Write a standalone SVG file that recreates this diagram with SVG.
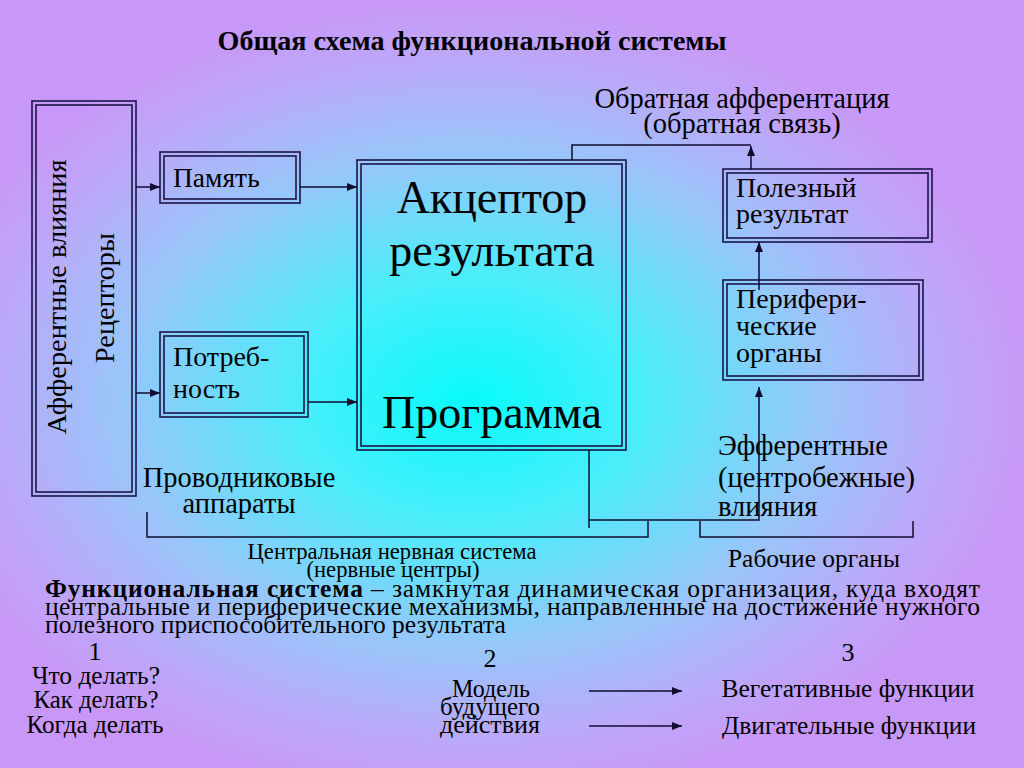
<svg xmlns="http://www.w3.org/2000/svg" width="1024" height="768" viewBox="0 0 1024 768">
<defs>
<radialGradient id="bg" gradientUnits="userSpaceOnUse" cx="0" cy="0" r="1" gradientTransform="translate(470,400) scale(560,400)">
<stop offset="0" stop-color="#08fafc"/>
<stop offset="0.3" stop-color="#48eefa"/>
<stop offset="0.62" stop-color="#98c6fa"/>
<stop offset="0.85" stop-color="#bca8f9"/>
<stop offset="1" stop-color="#c898f8"/>
</radialGradient>
<marker id="ah" viewBox="0 0 10 8" refX="10" refY="4" markerWidth="11" markerHeight="8" markerUnits="userSpaceOnUse" orient="auto">
<path d="M0,0 L10,4 L0,8 z" fill="#120c30"/>
</marker>
<style>
.t{font-family:"Liberation Serif","Times New Roman",serif;fill:#000}
.b{fill:none;stroke:#1b1446;stroke-width:1.6}
.c{fill:none;stroke:#120c30;stroke-width:1.5}
.a{marker-end:url(#ah)}
</style>
</defs>
<rect width="1024" height="768" fill="url(#bg)"/>

<text class="t" x="472" y="50" font-size="28" font-weight="bold" text-anchor="middle" textLength="509" lengthAdjust="spacingAndGlyphs">Общая схема функциональной системы</text>

<g id="receptors">
<rect class="b" x="32" y="101" width="104" height="395"/>
<rect class="b" x="36" y="105" width="96" height="387"/>
<text class="t" font-size="28" text-anchor="middle" transform="translate(66,297) rotate(-90)" textLength="275" lengthAdjust="spacingAndGlyphs">Афферентные влияния</text>
<text class="t" font-size="28" text-anchor="middle" transform="translate(114,298) rotate(-90)" textLength="130" lengthAdjust="spacingAndGlyphs">Рецепторы</text>
</g>

<g id="memory">
<rect class="b" x="160" y="152" width="140" height="51"/>
<rect class="b" x="164" y="156" width="132" height="43"/>
<text class="t" x="173" y="187" font-size="27.5">Память</text>
</g>

<g id="need">
<rect class="b" x="160" y="332" width="148" height="85"/>
<rect class="b" x="164" y="336" width="140" height="77"/>
<text class="t" x="173" y="366" font-size="28">Потреб-</text>
<text class="t" x="173" y="398" font-size="28">ность</text>
</g>

<g id="acceptor">
<rect class="b" x="357" y="160" width="269" height="290"/>
<rect class="b" x="361" y="164" width="261" height="282"/>
<text class="t" x="492" y="213" font-size="46" text-anchor="middle">Акцептор</text>
<text class="t" x="492" y="266" font-size="46" text-anchor="middle">результата</text>
<text class="t" x="492" y="428" font-size="46" text-anchor="middle">Программа</text>
</g>

<g id="useful">
<rect class="b" x="723" y="169" width="209" height="73"/>
<rect class="b" x="727" y="173" width="201" height="65"/>
<text class="t" x="736" y="197" font-size="28">Полезный</text>
<text class="t" x="736" y="223" font-size="28">результат</text>
</g>

<g id="periph">
<rect class="b" x="723" y="280" width="200" height="100"/>
<rect class="b" x="727" y="284" width="192" height="92"/>
<text class="t" x="736" y="308" font-size="28">Перифери-</text>
<text class="t" x="736" y="335" font-size="28">ческие</text>
<text class="t" x="736" y="362" font-size="28">органы</text>
</g>

<g id="labels">
<text class="t" x="742" y="108" font-size="28.5" text-anchor="middle">Обратная афферентация</text>
<text class="t" x="742" y="133" font-size="28.5" text-anchor="middle">(обратная связь)</text>
<text class="t" x="239" y="487" font-size="28.5" text-anchor="middle">Проводниковые</text>
<text class="t" x="239" y="513" font-size="28.5" text-anchor="middle">аппараты</text>
<text class="t" x="718" y="455" font-size="28.5">Эфферентные</text>
<text class="t" x="718" y="487" font-size="28.5">(центробежные)</text>
<text class="t" x="718" y="516" font-size="28.5">влияния</text>
<text class="t" x="392" y="559" font-size="23" text-anchor="middle" textLength="289" lengthAdjust="spacingAndGlyphs">Центральная нервная система</text>
<text class="t" x="393" y="577" font-size="23" text-anchor="middle" textLength="173" lengthAdjust="spacingAndGlyphs">(нервные центры)</text>
<text class="t" x="814" y="567" font-size="25" text-anchor="middle" textLength="172" lengthAdjust="spacingAndGlyphs">Рабочие органы</text>
</g>

<g id="definition">
<text class="t" y="597" font-size="25.5" textLength="935" lengthAdjust="spacing" x="45"><tspan font-weight="bold">Функциональная система</tspan> – замкнутая динамическая организация, куда входят</text>
<text class="t" x="45" y="615" font-size="25.5" textLength="935" lengthAdjust="spacing">центральные и периферические механизмы, направленные на достижение нужного</text>
<text class="t" x="45" y="633" font-size="25.5">полезного приспособительного результата</text>
</g>

<g id="col1">
<text class="t" x="95" y="660" font-size="26" text-anchor="middle">1</text>
<text class="t" x="96" y="684" font-size="26" text-anchor="middle" textLength="128" lengthAdjust="spacingAndGlyphs">Что делать?</text>
<text class="t" x="96" y="708" font-size="26" text-anchor="middle" textLength="125" lengthAdjust="spacingAndGlyphs">Как делать?</text>
<text class="t" x="95" y="733" font-size="26" text-anchor="middle" textLength="137" lengthAdjust="spacingAndGlyphs">Когда делать</text>
</g>

<g id="col2">
<text class="t" x="490" y="667" font-size="26" text-anchor="middle">2</text>
<text class="t" x="491" y="697" font-size="26" text-anchor="middle" textLength="78" lengthAdjust="spacingAndGlyphs">Модель</text>
<text class="t" x="490" y="715" font-size="26" text-anchor="middle" textLength="100" lengthAdjust="spacingAndGlyphs">будущего</text>
<text class="t" x="490" y="733" font-size="26" text-anchor="middle" textLength="100" lengthAdjust="spacingAndGlyphs">действия</text>
</g>

<g id="col3">
<text class="t" x="848" y="661" font-size="26" text-anchor="middle">3</text>
<text class="t" x="848" y="697" font-size="26" text-anchor="middle" textLength="253" lengthAdjust="spacingAndGlyphs">Вегетативные функции</text>
<text class="t" x="849" y="734" font-size="26" text-anchor="middle" textLength="254" lengthAdjust="spacingAndGlyphs">Двигательные функции</text>
</g>

<g id="connectors">
<line class="c a" x1="136" y1="187" x2="160" y2="187"/>
<line class="c a" x1="300" y1="187" x2="357" y2="187"/>
<line class="c a" x1="136" y1="393" x2="160" y2="393"/>
<line class="c a" x1="308" y1="402" x2="357" y2="402"/>
<polyline class="c" points="572,160 572,145 751,145"/>
<line class="c a" x1="751" y1="170" x2="751" y2="146"/>
<line class="c a" x1="759" y1="290" x2="759" y2="242"/>
<line class="c" x1="589" y1="450" x2="589" y2="528"/>
<polyline class="c a" points="589,520 759,520 759,387"/>
<polyline class="c" points="147,512 147,537 648,537 648,521"/>
<polyline class="c" points="700,521 700,537 913,537 913,521"/>
<line class="c a" x1="589" y1="691" x2="682" y2="691"/>
<line class="c a" x1="589" y1="726" x2="682" y2="726"/>
</g>
</svg>
